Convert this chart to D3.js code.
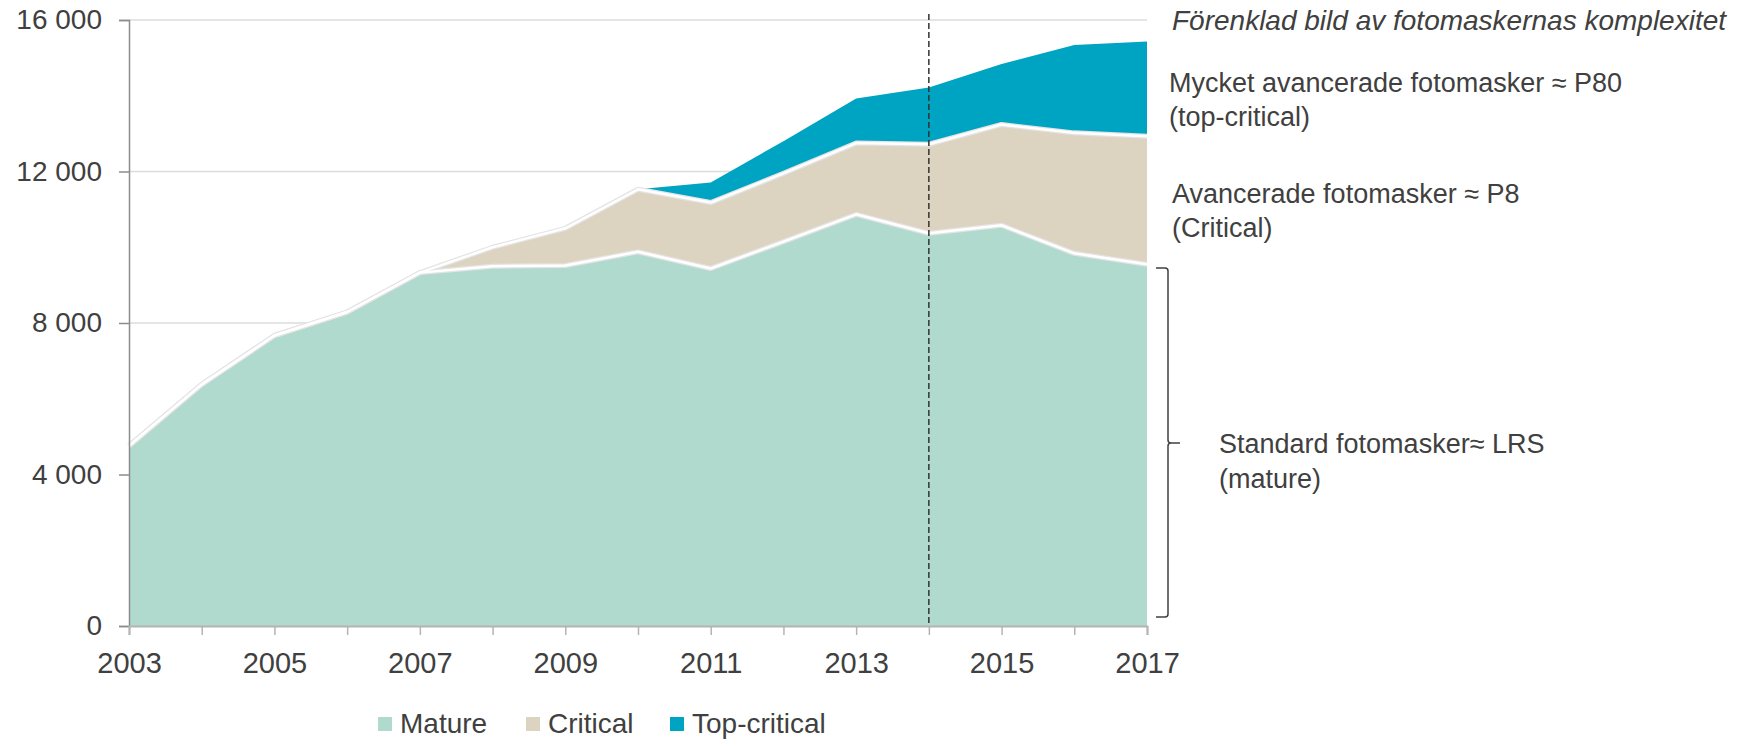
<!DOCTYPE html>
<html>
<head>
<meta charset="utf-8">
<script src="https://cdn.jsdelivr.net/npm/d3@7"></script>
<style>
  body { margin: 0; background: #fff; }
  text { font-family: "Liberation Sans", Arial, sans-serif; fill: #404040; }
</style>
</head>
<body>
<script>
const width = 1762;
const height = 741;

// data
var years = [2003, 2004, 2005, 2006, 2007, 2008, 2009, 2010, 2011, 2012, 2013, 2014, 2015, 2016, 2017];
var mature = [4760, 6380, 7670, 8290, 9330, 9500, 9520, 9880, 9440, 10150, 10870, 10370, 10580, 9840, 9550];
var critical = [0, 0, 0, 0, 0, 500, 980, 1650, 1740, 1800, 1880, 2350, 2660, 3180, 3380];
var topCritical = [0, 0, 0, 0, 0, 0, 0, 0, 530, 850, 1180, 1500, 1600, 2320, 2500];

var seriesKeys = ["Mature", "Critical", "Top-critical"];
var colors = ["#b1dace", "#ddd3c1", "#00a4c3"];
var yTicks = [0, 4000, 8000, 12000, 16000];
var labelYears = [2003, 2005, 2007, 2009, 2011, 2013, 2015, 2017];
var markerYear = 2014;

var rows = years.map(function(yr, i) {
  return {year: yr, "Mature": mature[i], "Critical": critical[i], "Top-critical": topCritical[i]};
});

const svg = d3.select("body").append("svg")
  .attr("width", width)
  .attr("height", height);

var x = d3.scaleLinear().domain([2003, 2017]).range([129, 1147]);
var y = d3.scaleLinear().domain([0, 16000]).range([626, 20]);

// gridlines
svg.append("g")
  .selectAll("line")
  .data(yTicks.filter(function(d) { return d > 0; }))
  .enter().append("line")
    .attr("x1", x(2003))
    .attr("x2", x(2017))
    .attr("y1", function(d) { return y(d); })
    .attr("y2", function(d) { return y(d); })
    .attr("stroke", "#dcdcdc")
    .attr("stroke-width", 1.5);

var stacked = d3.stack().keys(seriesKeys)(rows);

var area = d3.area()
  .x(function(d) { return x(d.data.year); })
  .y0(function(d) { return y(d[0]); })
  .y1(function(d) { return y(d[1]); });

svg.append("g")
  .selectAll("path")
  .data(stacked)
  .enter().append("path")
    .attr("d", area)
    .attr("fill", function(d, i) { return colors[i]; });

// white separators between layers, with a faint grey shadow
var topLine = d3.line()
  .x(function(d) { return x(d.data.year); })
  .y(function(d) { return y(d[1]); });

var seps = stacked.slice(0, 2);
svg.append("g")
  .selectAll("path")
  .data(seps)
  .enter().append("path")
    .attr("d", topLine)
    .attr("fill", "none")
    .attr("stroke", "#e4e4e4")
    .attr("stroke-width", 5)
    .attr("stroke-linejoin", "round");
svg.append("g")
  .selectAll("path")
  .data(seps)
  .enter().append("path")
    .attr("d", topLine)
    .attr("fill", "none")
    .attr("stroke", "#ffffff")
    .attr("stroke-width", 2.5)
    .attr("stroke-linejoin", "round");

// y axis
var yAxis = svg.append("g")
  .attr("transform", "translate(" + x(2003) + ",0)")
  .call(d3.axisLeft(y)
    .tickValues(yTicks)
    .tickSize(10)
    .tickPadding(17)
    .tickFormat(function(d) { return d3.format(",")(d).replace(",", " "); }));
yAxis.select(".domain").attr("stroke", "#8c8c8c").attr("stroke-width", 1.5);
yAxis.selectAll(".tick line").attr("stroke", "#8c8c8c").attr("stroke-width", 1.5);
yAxis.selectAll("text").style("font-size", "28px").attr("fill", "#404040");

// x axis
var xAxis = svg.append("g")
  .attr("transform", "translate(0," + y(0) + ")")
  .call(d3.axisBottom(x)
    .tickValues(years)
    .tickSize(9)
    .tickPadding(17)
    .tickFormat(function(d) { return labelYears.indexOf(d) >= 0 ? d : ""; }));
xAxis.select(".domain").attr("stroke", "#b4b4b4").attr("stroke-width", 2);
xAxis.selectAll(".tick line").attr("stroke", "#b4b4b4").attr("stroke-width", 1.5);
xAxis.selectAll("text").style("font-size", "29px").attr("fill", "#404040");

// dashed marker line
svg.append("line")
  .attr("x1", x(markerYear))
  .attr("x2", x(markerYear))
  .attr("y1", 14)
  .attr("y2", y(0))
  .attr("stroke", "#333")
  .attr("stroke-width", 1.5)
  .attr("stroke-dasharray", "6,3");

// annotations
svg.append("text")
  .attr("x", 1172).attr("y", 30)
  .style("font-size", "28px")
  .style("font-style", "italic")
  .text("Förenklad bild av fotomaskernas komplexitet");

var notes = [
  {x: 1169, y: 92, t: "Mycket avancerade fotomasker ≈ P80"},
  {x: 1169, y: 126, t: "(top-critical)"},
  {x: 1172, y: 203, t: "Avancerade fotomasker ≈ P8"},
  {x: 1172, y: 237, t: "(Critical)"},
  {x: 1219, y: 453, t: "Standard fotomasker≈ LRS"},
  {x: 1219, y: 488, t: "(mature)"}
];
svg.append("g")
  .selectAll("text")
  .data(notes)
  .enter().append("text")
    .attr("x", function(d) { return d.x; })
    .attr("y", function(d) { return d.y; })
    .style("font-size", "27px")
    .text(function(d) { return d.t; });

// brace for the mature part
var bx = 1168, bt = 268, bb = 617, bm = 443;
svg.append("path")
  .attr("d", "M1156," + bt + " L" + (bx - 3) + "," + bt + " Q" + bx + "," + bt + " " + bx + "," + (bt + 3) +
    " L" + bx + "," + (bm - 3) + " Q" + bx + "," + bm + " " + (bx + 3) + "," + bm + " L1180," + bm +
    " M" + (bx + 3) + "," + bm + " Q" + bx + "," + bm + " " + bx + "," + (bm + 3) +
    " L" + bx + "," + (bb - 3) + " Q" + bx + "," + bb + " " + (bx - 3) + "," + bb + " L1156," + bb)
  .attr("fill", "none")
  .attr("stroke", "#404040")
  .attr("stroke-width", 1.5);

// legend
var legendX = [378, 526, 670];
var legend = svg.append("g")
  .selectAll("g")
  .data(seriesKeys)
  .enter().append("g")
    .attr("transform", function(d, i) { return "translate(" + legendX[i] + ",717)"; });
legend.append("rect")
  .attr("width", 14)
  .attr("height", 14)
  .attr("fill", function(d, i) { return colors[i]; });
legend.append("text")
  .attr("x", 22)
  .attr("y", 16)
  .style("font-size", "28px")
  .text(function(d) { return d; });
</script>
</body>
</html>
